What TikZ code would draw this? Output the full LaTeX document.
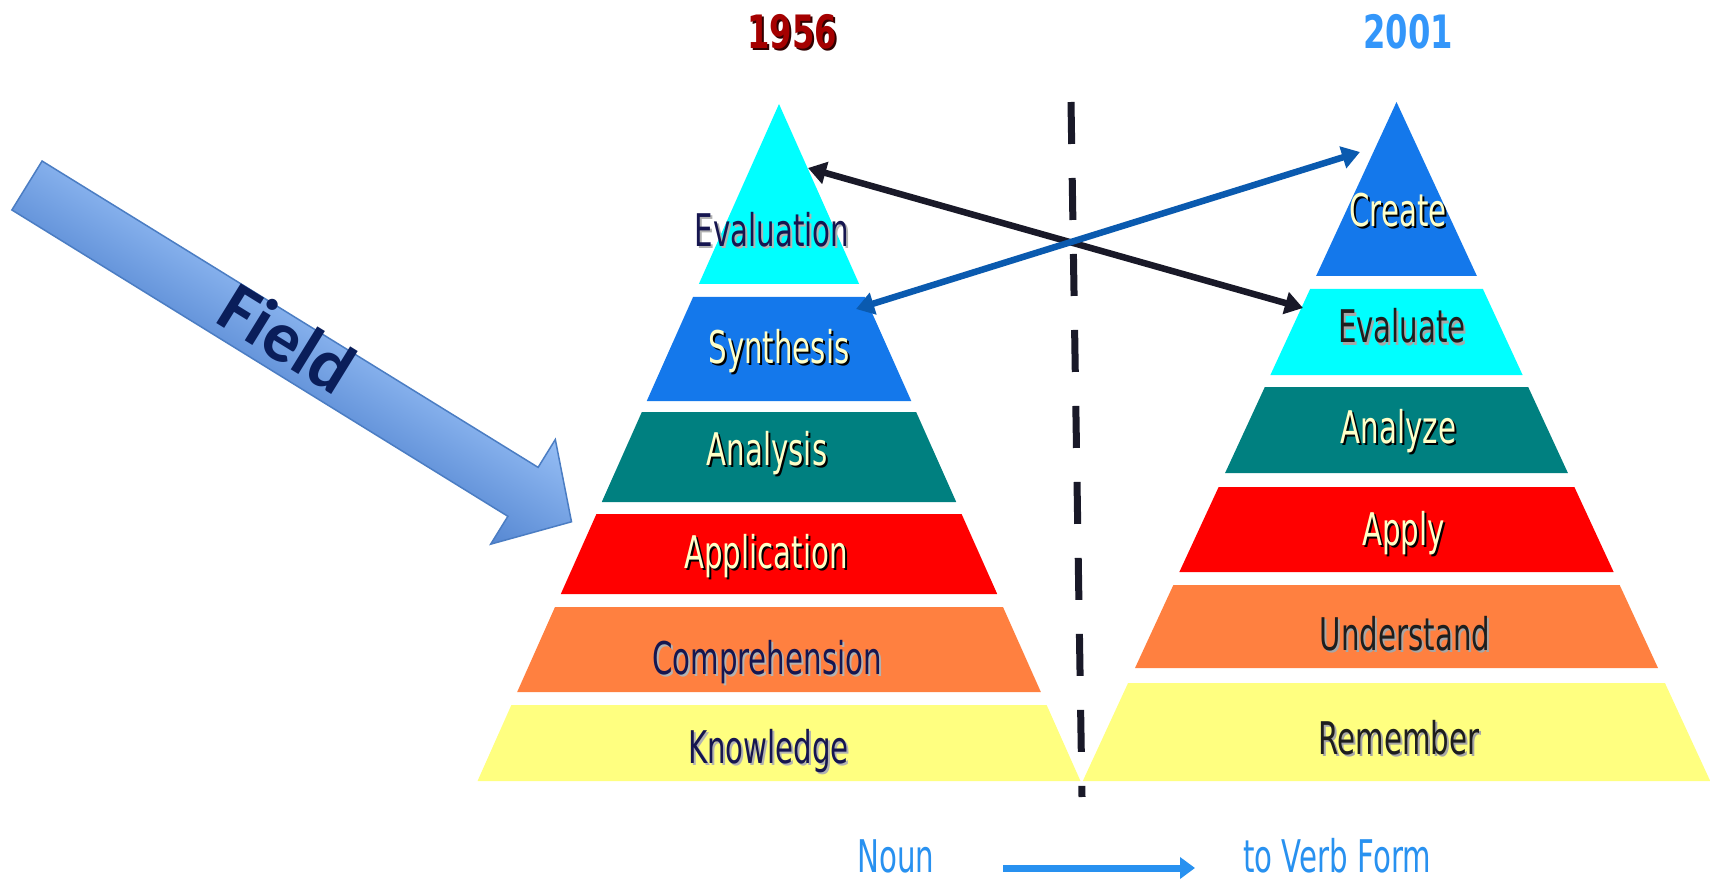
\documentclass[tikz,border=0pt]{standalone}
\usepackage{fontspec}
\usepackage{tikz}
\usetikzlibrary{arrows.meta}
\newfontfamily\lblfont[FakeStretch=0.65]{DejaVu Sans}
\newfontfamily\yrfont[FakeStretch=0.70]{DejaVu Sans}
\newfontfamily\fieldfont{Carlito}
\definecolor{bandcyan}{RGB}{0,255,255}
\definecolor{bandblue}{RGB}{20,120,235}
\definecolor{bandteal}{RGB}{0,128,128}
\definecolor{bandred}{RGB}{255,0,0}
\definecolor{bandorange}{RGB}{255,128,64}
\definecolor{bandyellow}{RGB}{255,255,128}
\definecolor{lblnavy}{RGB}{22,22,80}
\definecolor{lbllight}{RGB}{255,255,200}
\definecolor{lbldark}{RGB}{30,30,30}
\definecolor{oldred}{RGB}{165,0,0}
\definecolor{newblue}{RGB}{51,150,250}
\definecolor{formblue}{RGB}{40,145,240}
\definecolor{crossblue}{RGB}{10,90,175}
\definecolor{crossblack}{RGB}{25,25,40}
\definecolor{fieldlight}{RGB}{150,190,245}
\definecolor{fielddark}{RGB}{85,135,210}
\definecolor{fieldedge}{RGB}{75,125,195}
\definecolor{fieldtext}{RGB}{10,30,90}
% one band of a pyramid: [colour](apex x, apex y, slope)(top:bottom)
\def\band[#1](#2,#3,#4)(#5:#6){\fill[#1] ({#2-#4*(#5-#3)},#5) -- ({#2+#4*(#5-#3)},#5) -- ({#2+#4*(#6-#3)},#6) -- ({#2-#4*(#6-#3)},#6) -- cycle;}
\newcommand\shadowed[2]{\rlap{\raisebox{-2pt}{\kern2pt\textcolor{#1}{#2}}}#2}

\begin{document}
\begin{tikzpicture}[x=1pt, y=-1pt,
	lvl/.style={font=\lblfont\fontsize{45}{50}\selectfont, anchor=base, inner sep=0pt},
	yr/.style={font=\yrfont\bfseries\fontsize{46}{50}\selectfont, anchor=base, inner sep=0pt},
	cross/.style={line width=6.5pt, {Triangle[length=18pt,width=22pt]}-{Triangle[length=18pt,width=22pt]}}]
			%%%%% START %%%%%
			
			\fill[white] (0, 0) rectangle (1710, 882);
			\useasboundingbox (0, 0) rectangle (1710, 882);
			
			\node[yr, text=oldred] (y1956) at (792, 49) {\shadowed{black!70!oldred}{1956}};
			\node[yr, text=newblue] (y2001) at (1408, 49) {2001};
			
			% 1956
			\band[bandcyan](779,104,0.4453)(104:284)
			\band[bandblue](779,104,0.4453)(297:401)
			\band[bandteal](779,104,0.4453)(412:502)
			\band[bandred](779,104,0.4453)(514:594)
			\band[bandorange](779,104,0.4453)(607:692)
			\band[bandyellow](779,104,0.4453)(705:781)
			
			% 2001
			\band[bandblue](1396.5,102,0.462)(102:276)
			\band[bandcyan](1396.5,102,0.462)(289:375)
			\band[bandteal](1396.5,102,0.462)(387:473)
			\band[bandred](1396.5,102,0.462)(487:572)
			\band[bandorange](1396.5,102,0.462)(585:668)
			\band[bandyellow](1396.5,102,0.462)(683:781)
			
			\node[lvl, text=lblnavy] (evaluation) at (772, 247) {\shadowed{black!30}{Evaluation}};
			\node[lvl, text=lbllight] (synthesis) at (779, 363) {\shadowed{black}{Synthesis}};
			\node[lvl, text=lbllight] (analysis) at (767, 465) {\shadowed{black}{Analysis}};
			\node[lvl, text=lbllight] (application) at (766, 568) {\shadowed{black}{Application}};
			\node[lvl, text=lblnavy] (comprehension) at (767, 674) {\shadowed{black!30}{Comprehension}};
			\node[lvl, text=lblnavy] (knowledge) at (768.5, 763) {\shadowed{black!30}{Knowledge}};
			
			\node[lvl, text=lbllight] (create) at (1398, 227) {\shadowed{black}{Create}};
			\node[lvl, text=lbldark] (evaluate) at (1402, 343) {\shadowed{black!35}{Evaluate}};
			\node[lvl, text=lbllight] (analyze) at (1398.5, 443) {\shadowed{black}{Analyze}};
			\node[lvl, text=lbllight] (apply) at (1403.5, 545) {\shadowed{black}{Apply}};
			\node[lvl, text=lbldark] (understand) at (1405, 650) {\shadowed{black!35}{Understand}};
			\node[lvl, text=lbldark] (remember) at (1399, 754) {\shadowed{black!35}{Remember}};
			
			\draw[line width=7pt, color=crossblack, dash pattern=on 42pt off 34pt] (1071, 102) -- (1082, 797);
			
			\coordinate (evalTip) at (808, 168);
			\coordinate (evaluateTip) at (1303, 308);
			\coordinate (synTip) at (856, 309);
			\coordinate (createTip) at (1360, 152);
			\draw[cross, color=crossblack] (evalTip) -- (evaluateTip);
			\draw[cross, color=crossblue] (synTip) -- (createTip);
			
			\begin{scope}[transform canvas={shift={(27, 185.5)}, rotate=-31.7}]
				\draw[fieldedge, line width=1.5pt, top color=fieldlight, bottom color=fielddark] (0, -28.75) -- (583, -28.75) -- (583, -61.5) -- (640, 0) -- (583, 61.5) -- (583, 28.75) -- (0, 28.75) -- cycle;
			\end{scope}
			\node[font=\fieldfont\bfseries\fontsize{72}{76}\selectfont, text=fieldtext, anchor=base, inner sep=0pt, rotate=-31.7] (field) at (274, 359) {Field};
			
			\node[lvl, text=formblue] (noun) at (896, 872) {Noun};
			\node[lvl, text=formblue] (verb) at (1337, 872) {to Verb Form};
			\coordinate (formStart) at (1003, 868);
			\coordinate (formEnd) at (1195, 868);
			\draw[line width=7pt, color=formblue, -{Triangle[length=15pt,width=21pt]}] (formStart) -- (formEnd);
			
			%%%%% END %%%%%
\end{tikzpicture}
\end{document}
